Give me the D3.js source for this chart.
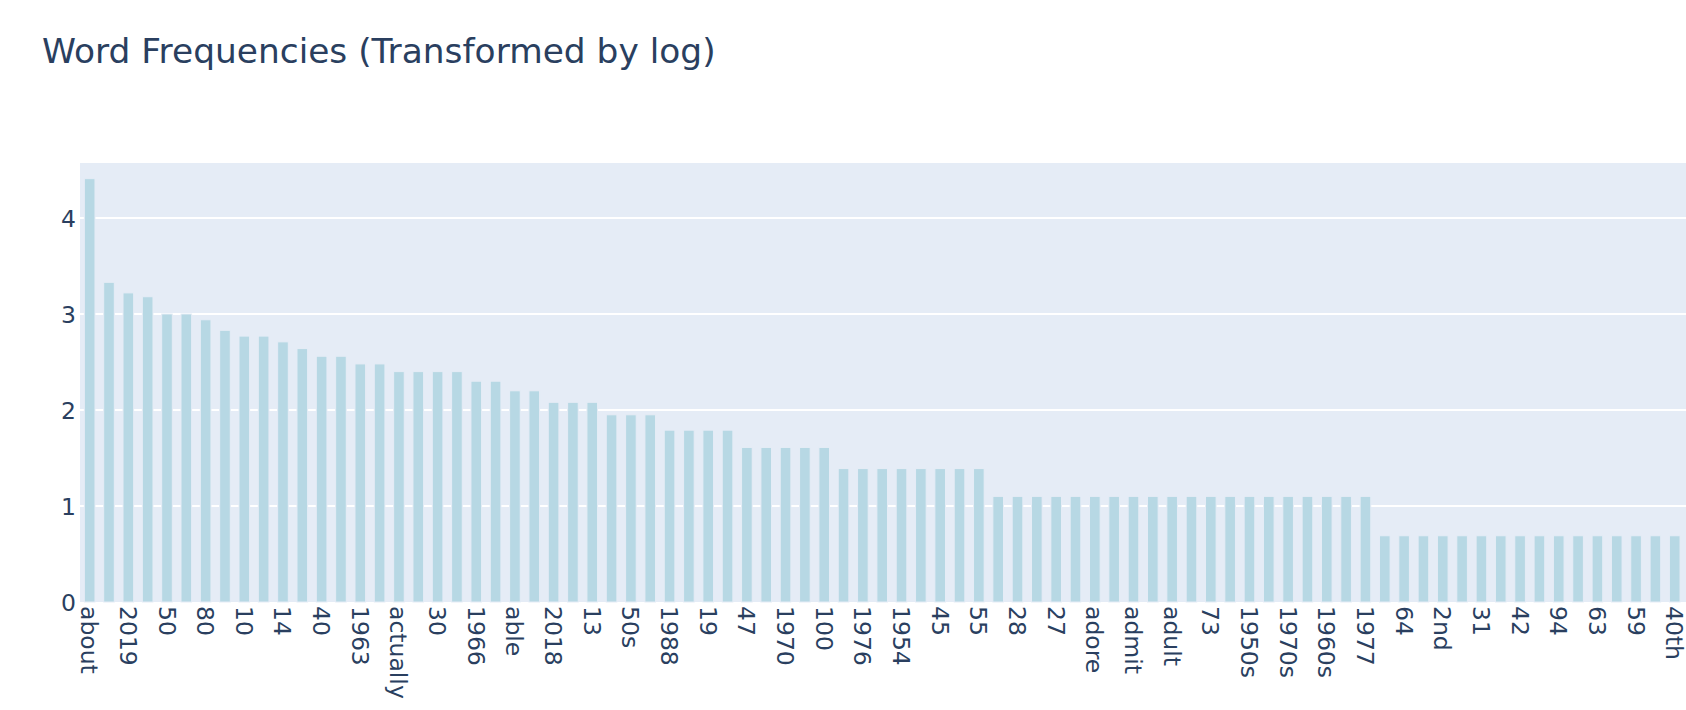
<!DOCTYPE html>
<html>
<head>
<meta charset="utf-8">
<script src="https://cdn.jsdelivr.net/npm/d3@7"></script>
<style>
  body { margin: 0; background: #fff; }
  svg { display: block; }
  text { font-family: Verdana, 'DejaVu Sans', sans-serif; fill: #2a3f5f; }
</style>
</head>
<body>
<div id="vis"></div>
<script>
var width = 1686;
var height = 710;

// plot area (pixels)
var plotLeft = 80;
var plotTop = 163;
var plotBottom = 602;
var barStep = 19.33;

var TITLE = 'Word Frequencies (Transformed by log)';

// words in plotted order; only every other one gets a tick label
var words = [
  'about', '1980', '2019', '20', '50', '1990', '80', '1960', '10', '11',
  '14', '15', '40', '12', '1963', '1950', 'actually', '60', '30', '70',
  '1966', '2017', 'able', '1984', '2018', '90', '13', '1967', '50s', '35',
  '1988', '1969', '19', '25', '47', '1975', '1970', '16', '100', '1940s',
  '1976', '1980s', '1954', '18', '45', '1958', '55', '65', '28', '1979',
  '27', 'accept', 'adore', '21', 'admit', '22', 'adult', '1962', '73', 'action',
  '1950s', '1978', '1970s', '48', '1960s', 'addition', '1977', '1972', '64', '24',
  '2nd', '3rd', '31', '1974', '42', '85', '94', '1961', '63', '36',
  '59', '1957', '40th', '1st'
];

// log of word counts
var logFreq = [
  4.41, 3.33, 3.22, 3.18, 3.00, 3.00, 2.94, 2.83, 2.77, 2.77,
  2.71, 2.64, 2.56, 2.56, 2.48, 2.48, 2.40, 2.40, 2.40, 2.40,
  2.30, 2.30, 2.20, 2.20, 2.08, 2.08, 2.08, 1.95, 1.95, 1.95,
  1.79, 1.79, 1.79, 1.79, 1.61, 1.61, 1.61, 1.61, 1.61, 1.39,
  1.39, 1.39, 1.39, 1.39, 1.39, 1.39, 1.39, 1.10, 1.10, 1.10,
  1.10, 1.10, 1.10, 1.10, 1.10, 1.10, 1.10, 1.10, 1.10, 1.10,
  1.10, 1.10, 1.10, 1.10, 1.10, 1.10, 1.10, 0.69, 0.69, 0.69,
  0.69, 0.69, 0.69, 0.69, 0.69, 0.69, 0.69, 0.69, 0.69, 0.69,
  0.69, 0.69, 0.69, 0.69
];

var Y_DOMAIN = [0, 4.573];
var Y_TICKS = [0, 1, 2, 3, 4];

var data = words.map(function(w, i) {
  return {word: w, value: logFreq[i]};
});

var xScale = d3.scaleBand()
  .domain(words)
  .range([plotLeft, plotLeft + words.length * barStep])
  .paddingInner(0.45)
  .paddingOuter(0.225);
var yScale = d3.scaleLinear().domain(Y_DOMAIN).range([plotBottom, plotTop]);

var svg = d3.select('#vis').append('svg')
  .attr('width', width)
  .attr('height', height);

svg.append('rect')
  .attr('x', plotLeft)
  .attr('y', plotTop)
  .attr('width', width - plotLeft)
  .attr('height', plotBottom - plotTop)
  .attr('fill', '#e5ecf6');

// horizontal grid
svg.append('g')
  .selectAll('line')
  .data(Y_TICKS.filter(function(t) { return t > 0; }))
  .enter()
  .append('line')
  .attr('x1', plotLeft)
  .attr('x2', width)
  .attr('y1', function(d) { return yScale(d); })
  .attr('y2', function(d) { return yScale(d); })
  .attr('stroke', '#fff')
  .attr('stroke-width', 2);

// bars
svg.append('g')
  .selectAll('rect')
  .data(data)
  .enter()
  .append('rect')
  .attr('x', function(d) { return xScale(d.word); })
  .attr('y', function(d) { return yScale(d.value); })
  .attr('width', xScale.bandwidth())
  .attr('height', function(d) { return yScale(0) - yScale(d.value); })
  .attr('fill', '#b7d8e4')
  .attr('stroke', '#e5ecf6')
  .attr('stroke-width', 1);

// y axis labels, no domain line / ticks
var yAxis = d3.axisLeft(yScale)
  .tickValues(Y_TICKS)
  .tickFormat(d3.format('d'))
  .tickSize(0)
  .tickPadding(4);
var yG = svg.append('g')
  .attr('transform', 'translate(' + plotLeft + ',0)')
  .call(yAxis);
yG.select('.domain').remove();
yG.selectAll('text')
  .attr('font-size', '23.5px')
  .attr('dy', '0.36em');

// x axis labels, every other word, rotated
var xAxis = d3.axisBottom(xScale)
  .tickValues(words.filter(function(w, i) { return i % 2 === 0; }))
  .tickSize(0);
var xG = svg.append('g')
  .attr('transform', 'translate(0,' + plotBottom + ')')
  .call(xAxis);
xG.select('.domain').remove();
xG.selectAll('text')
  .attr('font-size', '23.5px')
  .attr('y', 0)
  .attr('dy', '0.36em')
  .attr('transform', 'translate(0,4)rotate(90)')
  .attr('text-anchor', 'start');

svg.append('text')
  .attr('x', 42)
  .attr('y', 62.7)
  .attr('font-size', '34.4px')
  .text(TITLE);
</script>
</body>
</html>
